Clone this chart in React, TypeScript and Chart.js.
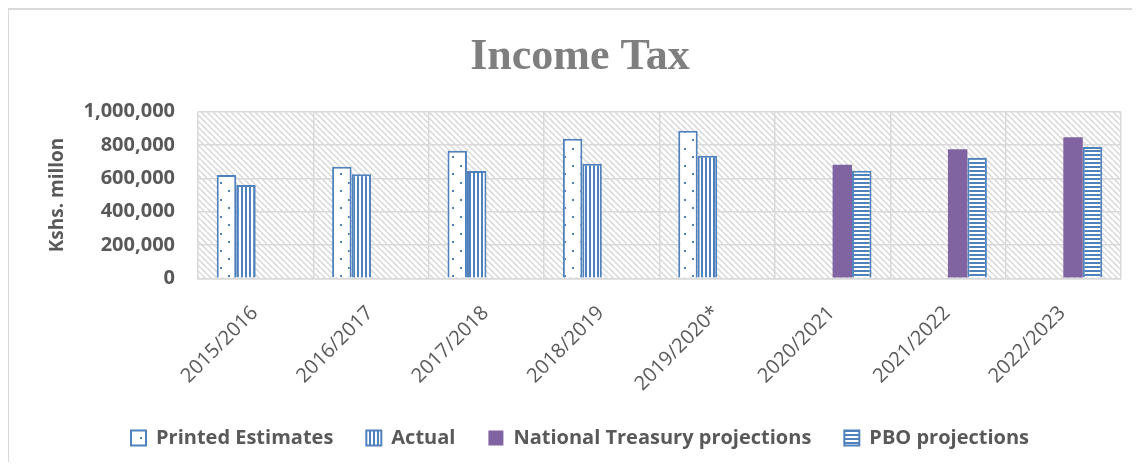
import React, { useEffect, useRef } from 'react';
import { Chart, registerables } from 'chart.js';

Chart.register(...registerables);

const categories = ['2015/2016', '2016/2017', '2017/2018', '2018/2019', '2019/2020*', '2020/2021', '2021/2022', '2022/2023'];
const printedEstimates = [620000, 670000, 766000, 838000, 886000, null, null, null];
const actual = [560000, 624000, 644000, 688000, 736000, null, null, null];
const ntProjections = [null, null, null, null, null, 682000, 774000, 846000];
const pboProjections = [null, null, null, null, null, 646000, 724000, 788000];
const yMax = 1000000;
const yStep = 200000;

const BLUE = '#4f81bd';
const PURPLE = '#8064a2';
const TEXT = '#595959';
const GRID = '#d9d9d9';

const W = 1123;
const H = 452;

function makePattern(w: number, h: number, draw: (c: CanvasRenderingContext2D) => void): CanvasPattern {
  const cv = document.createElement('canvas');
  cv.width = w;
  cv.height = h;
  const c = cv.getContext('2d') as CanvasRenderingContext2D;
  draw(c);
  return c.createPattern(cv, 'repeat') as CanvasPattern;
}

export default function App() {
  const ref = useRef<HTMLCanvasElement | null>(null);

  useEffect(() => {
    if (!ref.current) return;
    const dots = makePattern(16, 17, (c) => {
      c.fillStyle = '#ffffff';
      c.fillRect(0, 0, 16, 17);
      c.fillStyle = BLUE;
      c.fillRect(3, 2, 2, 2);
      c.fillRect(11, 10, 2, 2);
    });
    const vStripes = makePattern(4, 4, (c) => {
      c.fillStyle = '#ffffff';
      c.fillRect(0, 0, 4, 4);
      c.fillStyle = BLUE;
      c.fillRect(0, 0, 2, 4);
    });
    const hStripes = makePattern(4, 4, (c) => {
      c.fillStyle = '#ffffff';
      c.fillRect(0, 0, 4, 4);
      c.fillStyle = BLUE;
      c.fillRect(0, 0, 4, 2);
    });
    const hatch = makePattern(6, 6, (c) => {
      c.fillStyle = '#ffffff';
      c.fillRect(0, 0, 6, 6);
      c.strokeStyle = '#d6d6d6';
      c.lineWidth = 1.4;
      for (const k of [-6, 0, 6]) {
        c.beginPath();
        c.moveTo(k, 0);
        c.lineTo(k + 6, 6);
        c.stroke();
      }
    });

    const hatchPlugin = {
      id: 'hatchBg',
      beforeDraw(chart: any) {
        const { ctx, chartArea: a } = chart;
        ctx.save();
        ctx.fillStyle = hatch;
        ctx.fillRect(a.left, a.top, a.right - a.left, a.bottom - a.top);
        ctx.restore();
      },
    };

    Chart.defaults.font.family = "'Open Sans', sans-serif";

    const chart = new Chart(ref.current, {
      type: 'bar',
      data: {
        labels: categories,
        datasets: [
          { label: 'Printed Estimates', data: printedEstimates, backgroundColor: dots, borderColor: BLUE, borderWidth: 2 },
          { label: 'Actual', data: actual, backgroundColor: vStripes, borderColor: BLUE, borderWidth: 2 },
          { label: 'National Treasury projections', data: ntProjections, backgroundColor: PURPLE, borderColor: PURPLE, borderWidth: 0 },
          { label: 'PBO projections', data: pboProjections, backgroundColor: hStripes, borderColor: BLUE, borderWidth: 2 },
        ] as any,
      },
      options: {
        responsive: false,
        animation: false,
        categoryPercentage: 0.675,
        barPercentage: 1,
        layout: { padding: { left: 19, right: 0, top: 0, bottom: 4 } },
        plugins: {
          title: {
            display: true,
            text: 'Income Tax',
            color: '#7f7f7f',
            font: { family: "'Liberation Serif', serif", size: 44, weight: 'bold' },
            padding: { top: 21.6, bottom: 27.3 },
          },
          legend: {
            position: 'bottom',
            labels: {
              color: TEXT,
              font: { size: 20, weight: 'bold' },
              boxWidth: 15,
              boxHeight: 15,
              padding: 33,
            },
          },
          tooltip: { enabled: false },
        },
        scales: {
          x: {
            grid: { color: GRID, lineWidth: 1.5, offset: true, drawTicks: false },
            border: { display: true, color: GRID, width: 1.5 },
            ticks: {
              color: TEXT,
              font: { size: 20 },
              minRotation: 45,
              maxRotation: 45,
              autoSkip: false,
              padding: 23,
              labelOffset: -1,
            },
            afterFit: (s: any) => { s.height = 116.7; },
          },
          y: {
            min: 0,
            max: yMax,
            grid: { color: GRID, lineWidth: 1.5, drawTicks: false },
            border: { display: false },
            ticks: {
              stepSize: yStep,
              color: TEXT,
              font: { size: 20, weight: 'bold' },
              padding: 23,
              callback: (v: any) => Number(v).toLocaleString('en-US'),
            },
            title: {
              display: true,
              text: 'Kshs. millon',
              color: TEXT,
              font: { size: 19, weight: 'bold' },
              padding: { top: 18.6, bottom: 0 },
            },
            afterFit: (s: any) => { s.width = 170; },
          },
          yR: {
            type: 'linear',
            position: 'right',
            display: true,
            grid: { display: false, drawOnChartArea: false },
            border: { display: false },
            ticks: { display: false },
            afterFit: (s: any) => { s.width = 11; },
          },
        },
      } as any,
      plugins: [hatchPlugin],
    });
    return () => chart.destroy();
  }, []);

  return (
    <div
      style={{
        marginLeft: -1,
        width: W + 2,
        height: H + 2,
        borderTop: '2px solid #d9d9d9',
        borderLeft: '2px solid #d9d9d9',
        boxSizing: 'border-box',
      }}
    >
      <canvas ref={ref} width={W} height={H} style={{ display: 'block' }} />
    </div>
  );
}
